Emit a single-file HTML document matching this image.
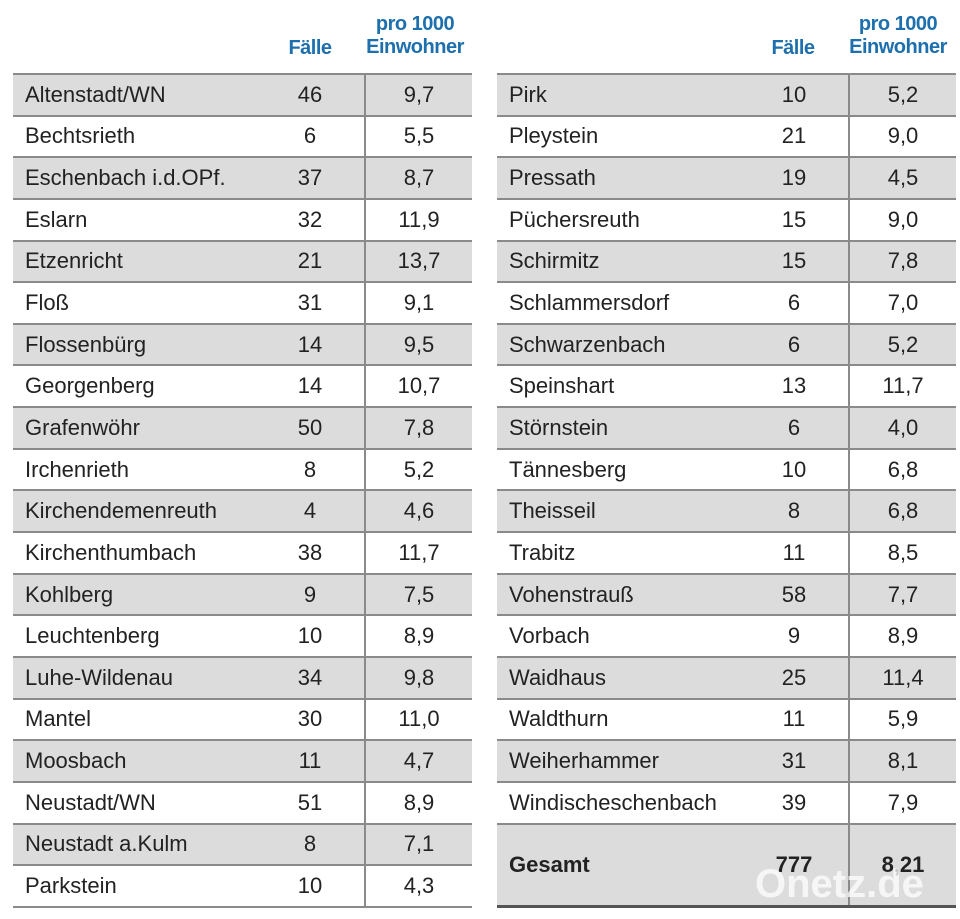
<!DOCTYPE html>
<html><head><meta charset="utf-8"><style>
body{margin:0;width:960px;height:919px;background:#fff;position:relative;overflow:hidden;font-family:"Liberation Sans",sans-serif;color:#222}
.hd{position:absolute;color:#1d6fae;font-weight:bold;font-size:20px;text-align:center;line-height:23px;letter-spacing:-0.5px}
.t{position:absolute;top:73px;border-top:2px solid #8a8a8a}
.r{box-sizing:border-box;height:41.65px;border-bottom:2px solid #8a8a8a;display:flex;align-items:center;font-size:22px}
.g{background:#dcdcdc}
.n{box-sizing:border-box;padding-left:12px;flex:none;width:243px;white-space:nowrap}
.f{flex:none;text-align:center;width:108px}
.p{box-sizing:border-box;flex:none;text-align:center;border-left:2px solid #8a8a8a;height:100%;display:flex;align-items:center;justify-content:center;width:108px}
.big{height:83.3px;font-weight:bold;border-bottom:3px solid #555}
</style></head><body>
<div class="hd" style="left:270px;top:37px;width:80px">Fälle</div>
<div class="hd" style="left:355px;top:13px;width:120px">pro 1000<br>Einwohner</div>
<div class="hd" style="left:753px;top:37px;width:80px">Fälle</div>
<div class="hd" style="left:838px;top:13px;width:120px">pro 1000<br>Einwohner</div>
<div class="t L" style="left:13px;width:459px">
<div class="r g"><span class="n">Altenstadt/WN</span><span class="f">46</span><span class="p">9,7</span></div>
<div class="r"><span class="n">Bechtsrieth</span><span class="f">6</span><span class="p">5,5</span></div>
<div class="r g"><span class="n">Eschenbach i.d.OPf.</span><span class="f">37</span><span class="p">8,7</span></div>
<div class="r"><span class="n">Eslarn</span><span class="f">32</span><span class="p">11,9</span></div>
<div class="r g"><span class="n">Etzenricht</span><span class="f">21</span><span class="p">13,7</span></div>
<div class="r"><span class="n">Floß</span><span class="f">31</span><span class="p">9,1</span></div>
<div class="r g"><span class="n">Flossenbürg</span><span class="f">14</span><span class="p">9,5</span></div>
<div class="r"><span class="n">Georgenberg</span><span class="f">14</span><span class="p">10,7</span></div>
<div class="r g"><span class="n">Grafenwöhr</span><span class="f">50</span><span class="p">7,8</span></div>
<div class="r"><span class="n">Irchenrieth</span><span class="f">8</span><span class="p">5,2</span></div>
<div class="r g"><span class="n">Kirchendemenreuth</span><span class="f">4</span><span class="p">4,6</span></div>
<div class="r"><span class="n">Kirchenthumbach</span><span class="f">38</span><span class="p">11,7</span></div>
<div class="r g"><span class="n">Kohlberg</span><span class="f">9</span><span class="p">7,5</span></div>
<div class="r"><span class="n">Leuchtenberg</span><span class="f">10</span><span class="p">8,9</span></div>
<div class="r g"><span class="n">Luhe-Wildenau</span><span class="f">34</span><span class="p">9,8</span></div>
<div class="r"><span class="n">Mantel</span><span class="f">30</span><span class="p">11,0</span></div>
<div class="r g"><span class="n">Moosbach</span><span class="f">11</span><span class="p">4,7</span></div>
<div class="r"><span class="n">Neustadt/WN</span><span class="f">51</span><span class="p">8,9</span></div>
<div class="r g"><span class="n">Neustadt a.Kulm</span><span class="f">8</span><span class="p">7,1</span></div>
<div class="r"><span class="n">Parkstein</span><span class="f">10</span><span class="p">4,3</span></div>
</div>
<div class="t R" style="left:497px;width:459px">
<div class="r g"><span class="n">Pirk</span><span class="f">10</span><span class="p">5,2</span></div>
<div class="r"><span class="n">Pleystein</span><span class="f">21</span><span class="p">9,0</span></div>
<div class="r g"><span class="n">Pressath</span><span class="f">19</span><span class="p">4,5</span></div>
<div class="r"><span class="n">Püchersreuth</span><span class="f">15</span><span class="p">9,0</span></div>
<div class="r g"><span class="n">Schirmitz</span><span class="f">15</span><span class="p">7,8</span></div>
<div class="r"><span class="n">Schlammersdorf</span><span class="f">6</span><span class="p">7,0</span></div>
<div class="r g"><span class="n">Schwarzenbach</span><span class="f">6</span><span class="p">5,2</span></div>
<div class="r"><span class="n">Speinshart</span><span class="f">13</span><span class="p">11,7</span></div>
<div class="r g"><span class="n">Störnstein</span><span class="f">6</span><span class="p">4,0</span></div>
<div class="r"><span class="n">Tännesberg</span><span class="f">10</span><span class="p">6,8</span></div>
<div class="r g"><span class="n">Theisseil</span><span class="f">8</span><span class="p">6,8</span></div>
<div class="r"><span class="n">Trabitz</span><span class="f">11</span><span class="p">8,5</span></div>
<div class="r g"><span class="n">Vohenstrauß</span><span class="f">58</span><span class="p">7,7</span></div>
<div class="r"><span class="n">Vorbach</span><span class="f">9</span><span class="p">8,9</span></div>
<div class="r g"><span class="n">Waidhaus</span><span class="f">25</span><span class="p">11,4</span></div>
<div class="r"><span class="n">Waldthurn</span><span class="f">11</span><span class="p">5,9</span></div>
<div class="r g"><span class="n">Weiherhammer</span><span class="f">31</span><span class="p">8,1</span></div>
<div class="r"><span class="n">Windischeschenbach</span><span class="f">39</span><span class="p">7,9</span></div>
<div class="r g big"><span class="n">Gesamt</span><span class="f">777</span><span class="p">8,21</span></div>
</div>
<div style="position:absolute;left:755px;top:862px;font-size:40px;font-weight:bold;color:rgba(255,255,255,0.75)">Onetz.de</div>
</body></html>
